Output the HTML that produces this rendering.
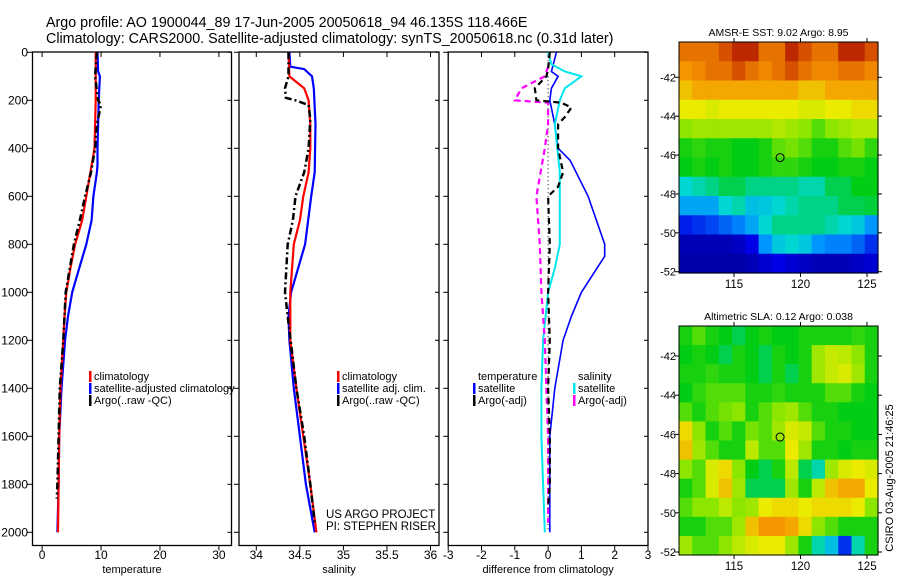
<!DOCTYPE html>
<html><head><meta charset="utf-8"><style>
body{margin:0;background:#fff;width:900px;height:580px;overflow:hidden}
svg{display:block;font-family:"Liberation Sans",sans-serif}
</style></head><body>
<svg id="s" width="900" height="580">
<text x="46" y="27" font-size="14.3">Argo profile: AO 1900044_89 17-Jun-2005 20050618_94 46.135S 118.466E</text>
<text x="46" y="43" font-size="14.3">Climatology: CARS2000. Satellite-adjusted climatology: synTS_20050618.nc (0.31d later)</text>
</svg>
<script>
// ---------- data ----------
const depthTicks=[0,200,400,600,800,1000,1200,1400,1600,1800,2000];
const tempTicks=[0,10,20,30];
const salTicks=[34,34.5,35,35.5,36];
const salTickLabels=["34","34.5","35","35.5","36"];
const diffTicks=[-3,-2,-1,0,1,2,3];
const tClimDepth=[0,100,200,300,400,500,600,700,800,900,1000,1100,1200,1400,1600,1800,2000];
const tClim=[9.1,9.1,9.1,9.0,8.9,8.2,7.5,6.8,5.6,4.8,4.1,3.8,3.6,3.1,2.9,2.8,2.7];
const tSatDepth=[0,80,100,200,300,400,470,500,600,700,800,900,1000,1100,1200,1400,1600,1800,2000];
const tSat=[9.4,9.5,9.8,9.6,9.5,9.4,9.4,9.3,8.7,8.4,7.5,6.3,5.1,4.4,3.9,3.3,2.9,2.8,2.6];
const tArgoDepth=[0,100,200,220,300,400,500,600,700,800,900,1000,1200,1400,1600,1800,1860];
const tArgo=[9.3,9.0,9.5,10.0,9.3,9.0,8.3,7.3,6.4,5.4,4.7,4.0,3.6,3.0,2.8,2.6,2.5];
const sClimDepth=[0,100,150,200,300,400,500,600,700,800,1000,1200,1400,1600,1800,2000];
const sClim=[34.37,34.38,34.55,34.6,34.62,34.62,34.6,34.54,34.5,34.43,34.39,34.39,34.46,34.54,34.62,34.69];
const sSatDepth=[0,60,70,100,150,300,500,600,800,1000,1100,1200,1400,1600,1800,2000];
const sSat=[34.38,34.39,34.55,34.64,34.66,34.68,34.67,34.63,34.56,34.4,34.37,34.38,34.43,34.5,34.57,34.67];
const sArgoDepth=[0,100,150,190,200,220,280,400,500,600,700,800,1000,1100,1400,1600,1800,1960];
const sArgo=[34.37,34.37,34.33,34.34,34.45,34.6,34.62,34.6,34.55,34.45,34.42,34.36,34.33,34.36,34.46,34.55,34.62,34.67];
const dTSatDepth=[0,80,100,150,200,300,400,450,600,700,800,850,1000,1100,1200,1400,1600,2000];
const dTSat=[0.25,0.1,0.3,0.1,0.05,0.2,0.3,0.66,1.2,1.45,1.7,1.7,1.0,0.7,0.45,0.2,0.05,0.05];
const dTArgoDepth=[0,70,100,150,200,210,230,270,300,400,500,560,600,800,1000,1200,1400,1600,1800,1900];
const dTArgo=[0.05,0.0,-0.05,-0.4,-0.35,0.4,0.7,0.5,0.3,0.3,0.45,0.3,0.0,0.05,0.0,0.05,0.0,0.05,0.05,0.0];
const dSSatDepth=[0,50,80,100,150,200,300,500,600,800,900,1000,1200,1400,1600,1800,2000];
const dSSat=[0.0,0.1,0.5,1.0,0.5,0.35,0.2,0.35,0.35,0.35,0.2,0.0,-0.15,-0.2,-0.2,-0.15,-0.1];
const dSArgoDepth=[60,100,150,200,210,300,400,600,800,1000,1100,1200,1400,1600,1800,1960];
const dSArgo=[0.0,-0.1,-0.8,-1.0,0.0,0.0,-0.1,-0.35,-0.25,-0.2,-0.15,-0.1,-0.05,0.0,0.0,0.0];
const lonTicks=[115,120,125];
const latTicks=[-42,-44,-46,-48,-50,-52];
const sstGrid=[
[0.85,0.85,0.85,0.9,0.95,0.95,0.85,0.85,0.95,0.9,0.85,0.85,0.95,0.95,0.9],
[0.8,0.82,0.85,0.85,0.9,0.85,0.82,0.85,0.9,0.85,0.82,0.82,0.85,0.85,0.82],
[0.75,0.78,0.78,0.78,0.78,0.78,0.78,0.78,0.78,0.75,0.75,0.78,0.78,0.78,0.78],
[0.7,0.7,0.68,0.7,0.7,0.7,0.7,0.7,0.7,0.68,0.68,0.7,0.7,0.72,0.72],
[0.6,0.62,0.62,0.62,0.62,0.62,0.62,0.64,0.62,0.6,0.55,0.6,0.62,0.64,0.64],
[0.5,0.52,0.5,0.5,0.48,0.48,0.5,0.56,0.58,0.55,0.5,0.5,0.55,0.58,0.52],
[0.48,0.5,0.48,0.5,0.48,0.48,0.5,0.52,0.52,0.5,0.48,0.48,0.5,0.5,0.48],
[0.38,0.4,0.42,0.45,0.45,0.42,0.42,0.42,0.42,0.4,0.4,0.45,0.45,0.48,0.48],
[0.32,0.32,0.32,0.38,0.4,0.35,0.36,0.38,0.4,0.42,0.42,0.42,0.45,0.45,0.46],
[0.18,0.2,0.22,0.25,0.28,0.32,0.38,0.42,0.42,0.42,0.42,0.4,0.38,0.36,0.3],
[0.08,0.08,0.08,0.08,0.1,0.15,0.3,0.36,0.38,0.36,0.3,0.28,0.28,0.25,0.2],
[0.06,0.06,0.06,0.06,0.06,0.08,0.12,0.15,0.12,0.1,0.08,0.08,0.08,0.1,0.12]];
const slaGrid=[
[0.5,0.55,0.5,0.48,0.45,0.48,0.5,0.48,0.48,0.5,0.5,0.5,0.5,0.52,0.5],
[0.48,0.5,0.48,0.45,0.5,0.48,0.45,0.5,0.48,0.5,0.62,0.66,0.65,0.6,0.5],
[0.5,0.5,0.52,0.5,0.5,0.48,0.45,0.5,0.45,0.5,0.62,0.66,0.68,0.62,0.5],
[0.48,0.52,0.55,0.55,0.55,0.5,0.5,0.52,0.5,0.5,0.5,0.55,0.55,0.5,0.48],
[0.55,0.5,0.55,0.58,0.6,0.5,0.55,0.6,0.62,0.55,0.5,0.5,0.48,0.48,0.48],
[0.72,0.6,0.5,0.55,0.5,0.58,0.55,0.62,0.68,0.66,0.55,0.5,0.5,0.48,0.48],
[0.75,0.62,0.55,0.5,0.5,0.65,0.55,0.55,0.7,0.62,0.5,0.5,0.48,0.5,0.5],
[0.6,0.55,0.68,0.72,0.6,0.48,0.45,0.5,0.65,0.45,0.4,0.62,0.68,0.7,0.68],
[0.5,0.55,0.68,0.75,0.62,0.45,0.45,0.45,0.62,0.5,0.65,0.75,0.78,0.78,0.7],
[0.55,0.6,0.6,0.65,0.6,0.62,0.7,0.72,0.72,0.7,0.72,0.72,0.72,0.7,0.6],
[0.5,0.5,0.55,0.55,0.62,0.75,0.8,0.8,0.78,0.72,0.6,0.55,0.5,0.5,0.5],
[0.62,0.55,0.55,0.6,0.65,0.68,0.7,0.7,0.62,0.5,0.4,0.35,0.2,0.4,0.5]];
const argoLon=[118.466];
const argoLat=[-46.135];

// ---------- drawing ----------
const S=document.getElementById('s');
const NS='http://www.w3.org/2000/svg';
function mk(tag,at,parent){const e=document.createElementNS(NS,tag);for(const k in at)e.setAttribute(k,at[k]);(parent||S).appendChild(e);return e;}
const Y0=52.3,YK=0.24;
const yD=d=>Y0+d*YK;
const PT=52,PB=545.5;
const panels=[
 {name:'temperature',l:32.5,r:231.5,x0:42.1,k:5.893,v0:0,ticks:tempTicks,labels:tempTicks.map(String),title:'temperature'},
 {name:'salinity',l:239,r:439,x0:256.3,k:87.1,v0:34,ticks:salTicks,labels:salTickLabels,title:'salinity'},
 {name:'difference',l:448.2,r:648,x0:548.1,k:33.3,v0:0,ticks:diffTicks,labels:diffTicks.map(String),title:'difference from climatology'}];
function xf(p){return v=>p.x0+(v-p.v0)*p.k;}
panels.forEach((p,i)=>{
 const g=mk('g',{});
 
 
 const r=mk('rect',{x:p.l,y:PT,width:p.r-p.l,height:PB-PT,fill:'none',stroke:'#000','stroke-width':1.3},g);
 
 
 const X=xf(p);
 p.ticks.forEach((t,j)=>{
  const x=X(t);
  mk('line',{x1:x,x2:x,y1:PB,y2:PB+5,stroke:'#000'},g);
  mk('line',{x1:x,x2:x,y1:PT,y2:PT+5,stroke:'#000'},g);
  const tl=mk('text',{x:x,y:559,'font-size':12,'text-anchor':'middle'},g);
  tl.textContent=p.labels[j];
  
  
 });
 const at=mk('text',{x:(p.l+p.r)/2,y:573,'font-size':11,'text-anchor':'middle'},g);
 at.textContent=p.title;
 
 
 depthTicks.forEach(d=>{
  const y=yD(d);
  mk('line',{x1:p.l-5,x2:p.l,y1:y,y2:y,stroke:'#000'},g);
  mk('line',{x1:p.r-4,x2:p.r,y1:y,y2:y,stroke:'#000'},g);
  if(i===0){const t=mk('text',{x:28,y:y+4,'font-size':12,'text-anchor':'end'},g);t.textContent=String(d);
   
   }
 });
});
function line(p,depths,vals,color,w,dash,name){
 const X=xf(p);
 const pts=depths.map((d,i)=>X(vals[i]).toFixed(1)+','+yD(d).toFixed(1)).join(' ');
 const e=mk('polyline',{points:pts,fill:'none',stroke:color,'stroke-width':w,'stroke-dasharray':dash||'none'});
 
 
}
const [P1,P2,P3]=panels;
line(P1,tSatDepth,tSat,'#0000ff',2.2,null,'temp-satellite-line');
line(P1,tClimDepth,tClim,'#ff0000',2.2,null,'temp-climatology-line');
line(P1,tArgoDepth,tArgo,'#000',2.5,'7,3,2,3','temp-argo-line');
line(P2,sSatDepth,sSat,'#0000ff',2.2,null,'sal-satellite-line');
line(P2,sClimDepth,sClim,'#ff0000',2.2,null,'sal-climatology-line');
line(P2,sArgoDepth,sArgo,'#000',2.5,'7,3,2,3','sal-argo-line');
{const x=xf(P3)(0);const z=mk('line',{x1:x,x2:x,y1:yD(0),y2:yD(2000),stroke:'#000','stroke-dasharray':'1,3'});
 
 }
line(P3,dTSatDepth,dTSat,'#0000ff',1.6,null,'diff-temp-satellite-line');
line(P3,dSSatDepth,dSSat,'#00e5ee',2,null,'diff-sal-satellite-line');
line(P3,dSArgoDepth,dSArgo,'#ff00ff',2.2,'6,4','diff-sal-argo-line');
line(P3,dTArgoDepth,dTArgo,'#000',2.2,'6,4','diff-temp-argo-line');

function legend(x,y,items,name){
 const g=mk('g',{});
 
 
 items.forEach((it,i)=>{
  const yy=y+i*12;
  if(it[1]){mk('rect',{x:x,y:yy-9,width:2.5,height:11,fill:it[1]},g);}
  const t=mk('text',{x:x+5,y:yy,'font-size':11},g);t.textContent=it[0];
  
  
 });
}
legend(89,380,[['climatology','#ff0000'],['satellite-adjusted climatology','#0000ff'],['Argo(..raw -QC)','#000']],'temp-legend');
legend(337,380,[['climatology','#ff0000'],['satellite adj. clim.','#0000ff'],['Argo(..raw -QC)','#000']],'sal-legend');
legend(473,380,[['temperature',null],['satellite','#0000ff'],['Argo(-adj)','#000']],'diff-temp-legend');
legend(573,380,[['salinity',null],['satellite','#00e5ee'],['Argo(-adj)','#ff00ff']],'diff-sal-legend');
{const t=mk('text',{x:326,y:518,'font-size':11.5});t.textContent='US ARGO PROJECT';
 
 
 const t2=mk('text',{x:326,y:530,'font-size':11.5});t2.textContent='PI: STEPHEN RISER';
 
 }

// colormap
const cstops=[[0,[0,0,128]],[0.15,[0,0,230]],[0.3,[0,150,255]],[0.38,[0,215,210]],[0.48,[0,205,20]],[0.6,[140,230,0]],[0.7,[235,235,0]],[0.8,[245,150,0]],[0.9,[215,80,0]],[1,[160,0,0]]];
function cmap(v){for(let i=1;i<cstops.length;i++){if(v<=cstops[i][0]){const a=cstops[i-1],b=cstops[i],f=(v-a[0])/(b[0]-a[0]);return 'rgb('+a[1].map((c,k)=>Math.round(c+(b[1][k]-c)*f)).join(',')+')';}}return 'rgb(160,0,0)';}
function map(top,bot,grid,title,name){
 const L=679,R=878;
 const lonX=v=>734+(v-115)*13.3;
 const g=mk('g',{});
 
 
 const rows=grid.length,cols=grid[0].length;
 const ch=(bot-top.t)/rows,cw=(R-L)/cols;
 grid.forEach((row,r)=>row.forEach((v,c)=>{
  const e=mk('rect',{x:(L+c*cw).toFixed(2),y:(top.t+r*ch).toFixed(2),width:(cw+0.6).toFixed(2),height:(ch+0.6).toFixed(2),fill:cmap(v)},g);
  
  
 }));
 mk('rect',{x:L,y:top.t,width:R-L,height:bot-top.t,fill:'none',stroke:'#000'},g);
 const ly=v=>top.y42+(-42-v)*top.k;
 latTicks.forEach(v=>{const y=ly(v);
  mk('line',{x1:L-4,x2:L,y1:y,y2:y,stroke:'#000'},g);mk('line',{x1:R,x2:R+4,y1:y,y2:y,stroke:'#000'},g);
  const t=mk('text',{x:L-3,y:y+4,'font-size':11,'text-anchor':'end'},g);t.textContent=String(v);
  
  });
 lonTicks.forEach(v=>{const x=lonX(v);
  mk('line',{x1:x,x2:x,y1:bot,y2:bot+4,stroke:'#000'},g);mk('line',{x1:x,x2:x,y1:top.t-4,y2:top.t,stroke:'#000'},g);
  const t=mk('text',{x:x,y:bot+15,'font-size':11.5,'text-anchor':'middle'},g);t.textContent=String(v);
  
  });
 const tt=mk('text',{x:(L+R)/2,y:top.t-6,'font-size':10.5,'text-anchor':'middle'},g);tt.textContent=title;
 
 
 const m=mk('circle',{cx:lonX(argoLon[0]),cy:ly(argoLat[0]),r:4,fill:'none',stroke:'#000','stroke-width':1},g);
 
 
}
map({t:42,y42:77.3,k:19.44},273,sstGrid,'AMSR-E SST: 9.02 Argo: 8.95','sst-map');
map({t:326,y42:356,k:19.6},555,slaGrid,'Altimetric SLA: 0.12 Argo: 0.038','sla-map');
{const t=mk('text',{x:0,y:0,'font-size':11,'text-anchor':'middle',transform:'translate(893,478) rotate(-90)'});
 t.textContent='CSIRO 03-Aug-2005 21:46:25';
 
 }
</script>
</body></html>
